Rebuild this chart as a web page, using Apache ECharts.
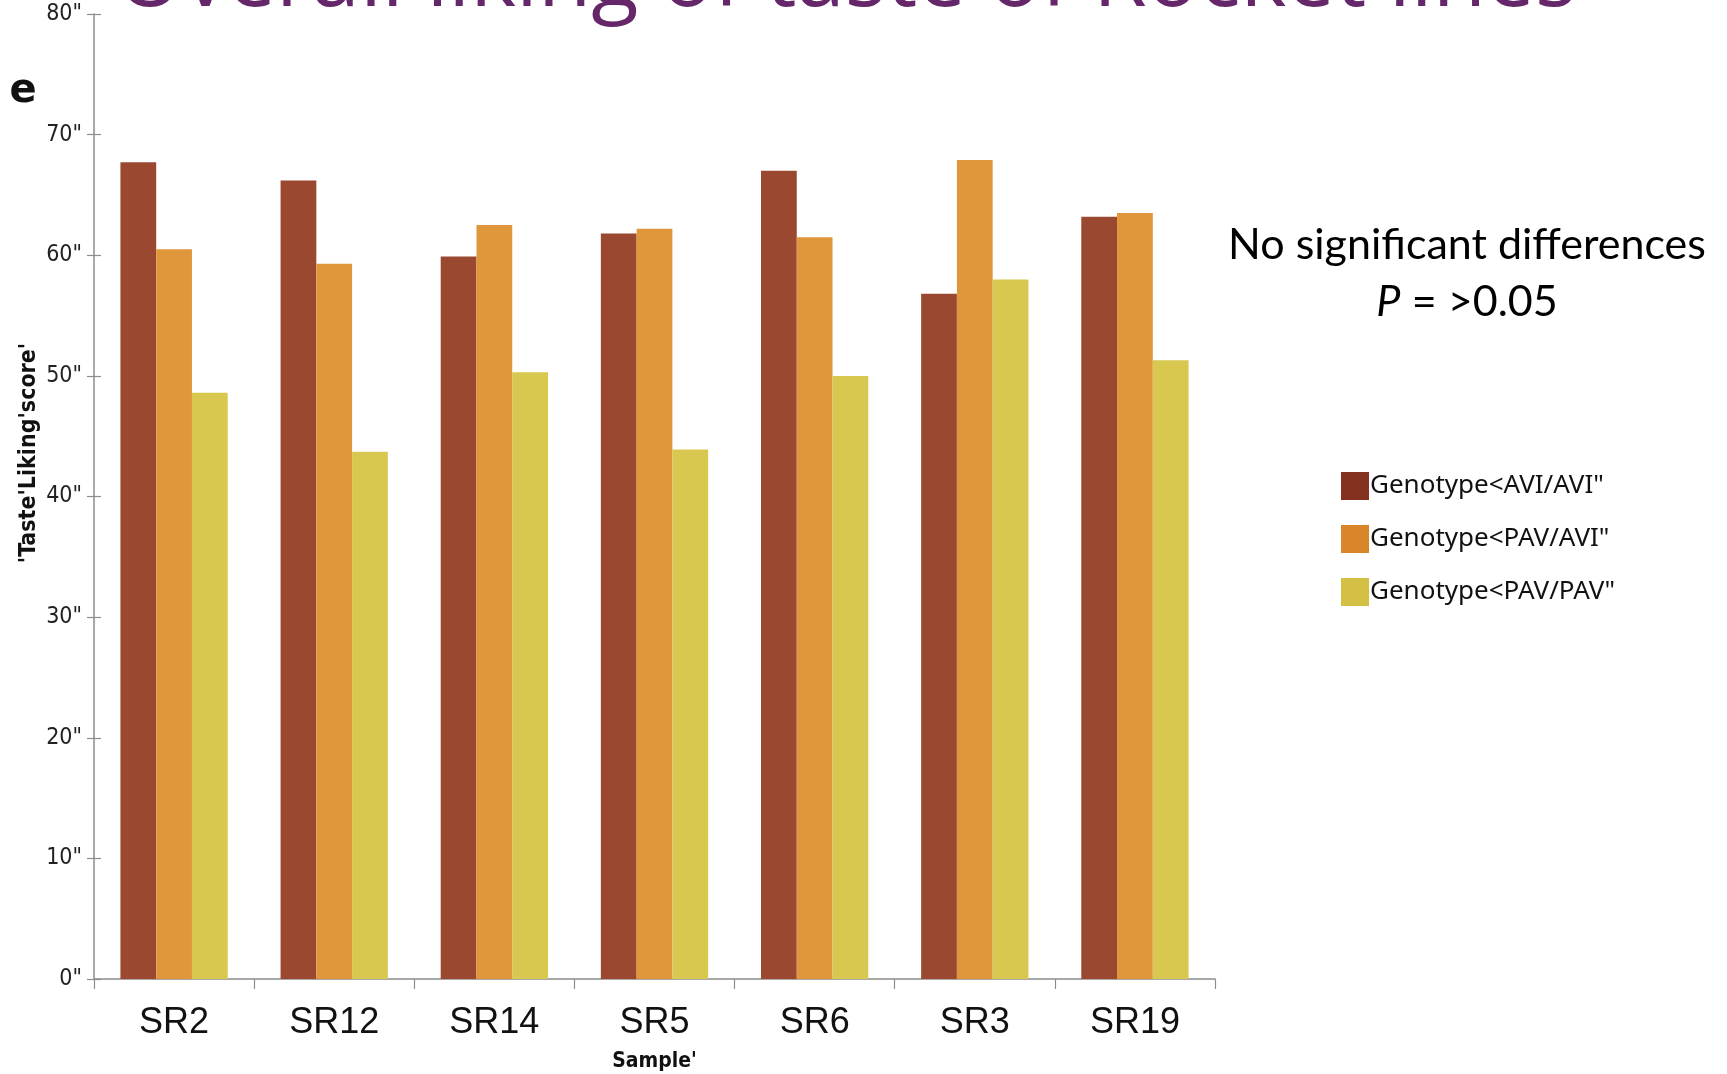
<!DOCTYPE html>
<html>
<head>
<meta charset="utf-8">
<script src="https://cdn.jsdelivr.net/npm/echarts@6/dist/echarts.min.js"></script>
<style>
html,body{margin:0;padding:0;background:#fff;}
#chart{width:1727px;height:1074px;}
</style>
</head>
<body>
<div id="chart"></div>
<script>
const categories = ['SR2', 'SR12', 'SR14', 'SR5', 'SR6', 'SR3', 'SR19'];
const seriesNames = ['Genotype<AVI/AVI"', 'Genotype<PAV/AVI"', 'Genotype<PAV/PAV"'];
const aviAvi = [67.7, 66.2, 59.9, 61.8, 67.0, 56.8, 63.2];
const pavAvi = [60.5, 59.3, 62.5, 62.2, 61.5, 67.9, 63.5];
const pavPav = [48.6, 43.7, 50.3, 43.9, 50.0, 58.0, 51.3];
const yMin = 0, yMax = 80, yStep = 10;
const yTickSuffix = '"';
const titleText = 'Overall liking of taste of Rocket lines';
const yAxisTitle = "'Taste'Liking'score'";
const xAxisTitle = "Sample'";
const panelLetter = 'e';
const noteLine1 = 'No significant differences';
const noteLine2 = '= >0.05';

const barColors = ['#9B4830', '#E0963A', '#D9C850'];
const legendColors = ['#84321F', '#D9862B', '#D3C044'];

const chart = echarts.init(document.getElementById('chart'));
const grid = {left: 94, right: 512, top: 14, bottom: 95, containLabel: false, outerBoundsMode: 'none'};
const axisGray = '#8c8c8c';

const valueAxisBase = {
  type: 'value', min: yMin, max: yMax, interval: yStep,
  splitLine: {show: false}
};

chart.setOption({
  animation: false,
  backgroundColor: '#ffffff',
  grid: grid,
  legend: {
    orient: 'vertical',
    left: 1336, top: 467,
    itemWidth: 28, itemHeight: 28, itemGap: 25,
    icon: 'rect',
    textStyle: {fontFamily: 'Noto Sans', fontSize: 26, color: '#111', padding: [0, 0, 0, -4]},
    data: seriesNames.map((n, i) => ({name: n, itemStyle: {color: legendColors[i]}}))
  },
  xAxis: {
    type: 'category',
    data: categories,
    axisLine: {lineStyle: {color: axisGray, width: 1.5}},
    axisTick: {show: true, alignWithLabel: false, length: 10, lineStyle: {color: axisGray, width: 1.2}},
    axisLabel: {fontFamily: 'Liberation Sans', fontSize: 36, color: '#111', margin: 26},
    name: xAxisTitle,
    nameLocation: 'middle',
    nameGap: 72,
    nameTextStyle: {fontFamily: 'DejaVu Sans Condensed', fontWeight: 'bold', fontSize: 21, color: '#111', verticalAlign: 'top'}
  },
  yAxis: [
    Object.assign({}, valueAxisBase, {
      axisLine: {show: true, lineStyle: {color: axisGray, width: 1.5}},
      axisTick: {show: true, length: 7, lineStyle: {color: axisGray, width: 1.2}},
      axisLabel: {
        fontFamily: 'Liberation Sans Narrow, DejaVu Sans Condensed, sans-serif',
        fontSize: 23, color: '#222', margin: 12,
        formatter: v => v + yTickSuffix
      }
    }),
    Object.assign({}, valueAxisBase, {
      position: 'left',
      axisLine: {show: false},
      axisTick: {show: true, inside: true, length: 7, lineStyle: {color: axisGray, width: 1.2}},
      axisLabel: {show: false}
    })
  ],
  series: [aviAvi, pavAvi, pavPav].map((d, i) => ({
    name: seriesNames[i],
    type: 'bar',
    data: d,
    barGap: '0%',
    barCategoryGap: '33%',
    itemStyle: {color: barColors[i]}
  })),
  graphic: [
    {
      type: 'text', left: 116, top: 4 - 66,
      style: {text: titleText, fontFamily: 'Open Sans', fontSize: 87, fill: '#66276A'}
    },
    {
      type: 'text', x: 23, y: 92,
      style: {text: panelLetter, fontFamily: 'DejaVu Sans', fontWeight: 'bold', fontSize: 40, fill: '#111', align: 'center', verticalAlign: 'middle'}
    },
    {
      type: 'text', x: 29, y: 453, rotation: Math.PI / 2,
      style: {text: yAxisTitle, fontFamily: 'DejaVu Sans Condensed', fontWeight: 'bold', fontSize: 23, fill: '#111', align: 'center', verticalAlign: 'middle'}
    },
    {
      type: 'text', x: 1467, y: 245,
      style: {text: noteLine1, fontFamily: 'Lato', fontSize: 43, fill: '#000', align: 'center', verticalAlign: 'middle'}
    },
    {
      type: 'text', x: 1467, y: 302,
      style: {
        text: '{i|P} {n|' + noteLine2 + '}',
        align: 'center', verticalAlign: 'middle',
        rich: {
          i: {fontFamily: 'Lato', fontStyle: 'italic', fontSize: 43, fill: '#000', padding: [0, 8, 0, 0]},
          n: {fontFamily: 'Lato', fontSize: 43, fill: '#000'}
        }
      }
    }
  ]
});
</script>
</body>
</html>
